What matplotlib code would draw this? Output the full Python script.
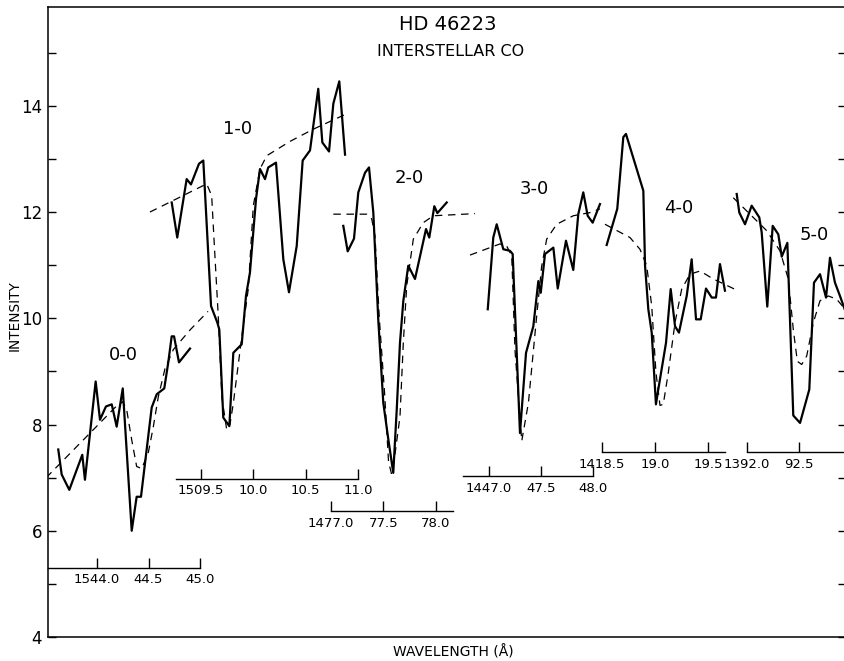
import matplotlib.pyplot as plt

# ---- data: observed spectrum (solid) and model fit (dashed) for each CO band ----
band_names = ['0-0', '1-0', '2-0', '3-0', '4-0', '5-0']

obs_wl_00 = [1543.624, 1543.657, 1543.731, 1543.857, 1543.883, 1543.987, 1544.029, 1544.087,
             1544.143, 1544.191, 1544.250, 1544.337, 1544.385, 1544.427, 1544.531, 1544.580,
             1544.653, 1544.692, 1544.725, 1544.748, 1544.796, 1544.903]
obs_00 = [7.53, 7.06, 6.77, 7.43, 6.96, 8.81, 8.09, 8.34, 8.38, 7.96, 8.68, 6.00, 6.64, 6.64,
          8.32, 8.57, 8.68, 9.17, 9.66, 9.66, 9.17, 9.43]
fit_wl_00 = [1543.507, 1544.029, 1544.175, 1544.250, 1544.288, 1544.337, 1544.385, 1544.434,
             1544.498, 1544.547, 1544.595, 1544.660, 1544.741, 1544.903, 1545.078]
fit_00 = [7.00, 8.03, 8.32, 8.43, 8.28, 7.71, 7.21, 7.17, 7.47, 7.96, 8.52, 9.05, 9.41, 9.78, 10.13]

obs_wl_10 = [1509.220, 1509.273, 1509.363, 1509.404, 1509.481, 1509.522, 1509.596, 1509.656,
             1509.675, 1509.713, 1509.771, 1509.809, 1509.889, 1509.930, 1509.968, 1510.026,
             1510.064, 1510.112, 1510.143, 1510.217, 1510.287, 1510.341, 1510.415, 1510.472,
             1510.542, 1510.621, 1510.660, 1510.724, 1510.765, 1510.822, 1510.877]
obs_10 = [12.18, 11.52, 12.62, 12.52, 12.91, 12.97, 10.23, 9.92, 9.79, 8.13, 7.97, 9.35, 9.51,
          10.42, 10.86, 12.25, 12.81, 12.62, 12.84, 12.93, 11.11, 10.49, 11.36, 12.97, 13.16,
          14.32, 13.31, 13.14, 14.04, 14.46, 13.08]
fit_wl_10 = [1509.012, 1509.554, 1509.602, 1509.624, 1509.665, 1509.700, 1509.746, 1509.777,
             1509.809, 1509.899, 1509.952, 1510.000, 1510.064, 1510.128, 1510.351, 1510.574,
             1510.893]
fit_10 = [12.00, 12.53, 12.31, 11.50, 10.04, 8.50, 7.90, 8.00, 8.40, 9.79, 10.55, 12.12, 12.81,
          13.06, 13.33, 13.56, 13.85]

obs_wl_20 = [1477.117, 1477.159, 1477.219, 1477.260, 1477.324, 1477.362, 1477.403, 1477.450,
             1477.498, 1477.546, 1477.593, 1477.626, 1477.657, 1477.689, 1477.736, 1477.800,
             1477.905, 1477.936, 1477.984, 1478.013, 1478.102]
obs_20 = [11.74, 11.26, 11.50, 12.37, 12.74, 12.84, 11.99, 9.98, 8.41, 7.72, 7.09, 8.28, 9.54,
          10.33, 10.99, 10.74, 11.68, 11.52, 12.11, 11.98, 12.18]
fit_wl_20 = [1477.022, 1477.340, 1477.388, 1477.419, 1477.460, 1477.510, 1477.548, 1477.575,
             1477.600, 1477.657, 1477.689, 1477.721, 1477.784, 1477.879, 1477.975, 1478.371]
fit_20 = [11.96, 11.96, 11.87, 11.55, 10.00, 8.60, 7.30, 7.08, 7.30, 8.15, 9.55, 10.61, 11.49,
          11.80, 11.93, 11.97]

obs_wl_30 = [1446.988, 1447.041, 1447.074, 1447.137, 1447.201, 1447.227, 1447.297, 1447.355,
             1447.425, 1447.473, 1447.496, 1447.537, 1447.617, 1447.659, 1447.738, 1447.808,
             1447.856, 1447.904, 1447.946, 1447.994, 1448.064]
obs_30 = [10.17, 11.52, 11.77, 11.30, 11.27, 11.21, 7.84, 9.35, 9.85, 10.70, 10.48, 11.21, 11.33,
          10.56, 11.46, 10.91, 11.96, 12.37, 11.93, 11.80, 12.15]
fit_wl_30 = [1446.818, 1447.105, 1447.170, 1447.218, 1447.249, 1447.314, 1447.378, 1447.457,
             1447.505, 1447.553, 1447.649, 1447.808, 1447.968, 1448.064]
fit_30 = [11.19, 11.40, 11.36, 11.17, 9.40, 7.69, 8.41, 10.04, 10.98, 11.49, 11.77, 11.93, 11.99,
          12.06]

obs_wl_40 = [1418.544, 1418.644, 1418.701, 1418.726, 1418.890, 1418.906, 1418.937, 1418.969,
             1419.009, 1419.031, 1419.104, 1419.148, 1419.189, 1419.226, 1419.299, 1419.346,
             1419.387, 1419.431, 1419.481, 1419.535, 1419.575, 1419.613, 1419.660]
obs_40 = [11.38, 12.06, 13.41, 13.47, 12.40, 10.99, 10.17, 9.73, 8.38, 8.66, 9.54, 10.55, 9.85,
          9.73, 10.42, 11.11, 9.98, 9.98, 10.56, 10.39, 10.39, 11.02, 10.52]
fit_wl_40 = [1418.528, 1418.764, 1418.858, 1418.922, 1418.969, 1419.009, 1419.047, 1419.078,
             1419.125, 1419.189, 1419.252, 1419.330, 1419.425, 1419.550, 1419.771]
fit_40 = [11.77, 11.52, 11.30, 10.99, 10.23, 8.98, 8.36, 8.38, 8.97, 9.92, 10.55, 10.83, 10.89,
          10.74, 10.53]

obs_wl_50 = [1391.901, 1391.926, 1391.981, 1392.045, 1392.118, 1392.141, 1392.195, 1392.247,
             1392.301, 1392.334, 1392.388, 1392.445, 1392.510, 1392.599, 1392.644, 1392.702,
             1392.760, 1392.798, 1392.846, 1392.894, 1392.952]
obs_50 = [12.34, 11.99, 11.77, 12.12, 11.90, 11.62, 10.22, 11.74, 11.58, 11.16, 11.42, 8.17, 8.03,
          8.66, 10.67, 10.83, 10.39, 11.14, 10.67, 10.42, 10.10]
fit_wl_50 = [1391.868, 1392.189, 1392.317, 1392.397, 1392.445, 1392.484, 1392.526, 1392.574,
             1392.638, 1392.702, 1392.782, 1392.862, 1392.952]
fit_50 = [12.27, 11.65, 11.27, 10.74, 9.79, 9.19, 9.13, 9.29, 9.92, 10.33, 10.42, 10.36, 10.15]

# wavelength scale ticks of each band
ticks_00 = [1544.0, 1544.5, 1545.0]
tick_labels_00 = ['1544.0', '44.5', '45.0']
ticks_10 = [1509.5, 1510.0, 1510.5, 1511.0]
tick_labels_10 = ['1509.5', '10.0', '10.5', '11.0']
ticks_20 = [1477.0, 1477.5, 1478.0]
tick_labels_20 = ['1477.0', '77.5', '78.0']
ticks_30 = [1447.0, 1447.5, 1448.0]
tick_labels_30 = ['1447.0', '47.5', '48.0']
ticks_40 = [1418.5, 1419.0, 1419.5]
tick_labels_40 = ['1418.5', '19.0', '19.5']
ticks_50 = [1392.0, 1392.5]
tick_labels_50 = ['1392.0', '92.5']

# ---- layout of each band's own wavelength scale ----
# (reference wavelength, its pixel x, pixels per angstrom, scale height, scale extent, label pos)
layout = {
    '0-0': dict(ref=1544.0, px=97, ppa=103.0, yline=5.30, span=(1543.52, 1545.0), lab=(1544.26, 9.31)),
    '1-0': dict(ref=1509.5, px=201, ppa=104.6, yline=6.98, span=(1509.26, 1511.0), lab=(1509.85, 13.56)),
    '2-0': dict(ref=1477.0, px=331, ppa=105.0, yline=6.37, span=(1477.0, 1478.16), lab=(1477.743, 12.64)),
    '3-0': dict(ref=1447.0, px=489, ppa=104.3, yline=7.03, span=(1446.75, 1448.0), lab=(1447.434, 12.44)),
    '4-0': dict(ref=1418.5, px=602, ppa=106.0, yline=7.48, span=(1418.5, 1419.66), lab=(1419.22, 12.07)),
    '5-0': dict(ref=1392.0, px=747, ppa=104.0, yline=7.48, span=(1392.0, 1393.2), lab=(1392.644, 11.57)),
}

bands = {
    '0-0': (obs_wl_00, obs_00, fit_wl_00, fit_00, ticks_00, tick_labels_00),
    '1-0': (obs_wl_10, obs_10, fit_wl_10, fit_10, ticks_10, tick_labels_10),
    '2-0': (obs_wl_20, obs_20, fit_wl_20, fit_20, ticks_20, tick_labels_20),
    '3-0': (obs_wl_30, obs_30, fit_wl_30, fit_30, ticks_30, tick_labels_30),
    '4-0': (obs_wl_40, obs_40, fit_wl_40, fit_40, ticks_40, tick_labels_40),
    '5-0': (obs_wl_50, obs_50, fit_wl_50, fit_50, ticks_50, tick_labels_50),
}

W, H = 844, 661
x_left, x_right = 47.5, 846.0     # axes frame in pixels
y_bot, y_top = 637.0, 7.0
ylim = (4, 15.86)
rect = [x_left / W, (H - y_bot) / H, (x_right - x_left) / W, (y_bot - y_top) / H]

fig = plt.figure(figsize=(W / 100, H / 100), dpi=100)
ax = fig.add_axes(rect)
ax.set_ylim(*ylim)
ax.set_xticks([])
ax.set_yticks(range(4, 16))
ax.set_yticklabels([str(v) if v % 2 == 0 else '' for v in range(4, 16)])
ax.tick_params(axis='y', direction='in', length=6, width=1.0, left=True, right=True,
               labelsize=12, pad=4)
for s in ax.spines.values():
    s.set_linewidth(1.1)

for name in band_names:
    wl, obs, fwl, fit, ticks, tlabels = bands[name]
    lay = layout[name]
    bx = fig.add_axes(rect, label=name)
    bx.patch.set_alpha(0)
    bx.set_ylim(*ylim)
    bx.set_xlim(lay['ref'] + (x_left - lay['px']) / lay['ppa'],
                lay['ref'] + (x_right - lay['px']) / lay['ppa'])
    for side in ['top', 'left', 'right']:
        bx.spines[side].set_visible(False)
    bx.spines['bottom'].set_position(('data', lay['yline']))
    bx.spines['bottom'].set_bounds(*lay['span'])
    bx.spines['bottom'].set_linewidth(1.0)
    bx.set_yticks([])
    bx.set_xticks(ticks)
    bx.set_xticklabels(tlabels)
    bx.tick_params(axis='x', direction='in', length=7, width=1.0, labelsize=9.5, pad=4)

    bx.plot(fwl, fit, color='black', lw=0.9, dashes=(6, 4.5))
    bx.plot(wl, obs, color='black', lw=1.6)
    bx.text(lay['lab'][0], lay['lab'][1], name, fontsize=13, ha='center', va='center')

fig.text(448 / W, 1 - 25 / H, 'HD 46223', fontsize=14, ha='center', va='center')
fig.text(451 / W, 1 - 52 / H, 'INTERSTELLAR CO', fontsize=11.5, ha='center', va='center')
fig.text(15 / W, 1 - 316 / H, 'INTENSITY', fontsize=9.8, rotation=90, ha='center', va='center')
fig.text(453 / W, 1 - 652 / H, 'WAVELENGTH (Å)', fontsize=10, ha='center', va='center')

fig.savefig('out.png', dpi=100)
